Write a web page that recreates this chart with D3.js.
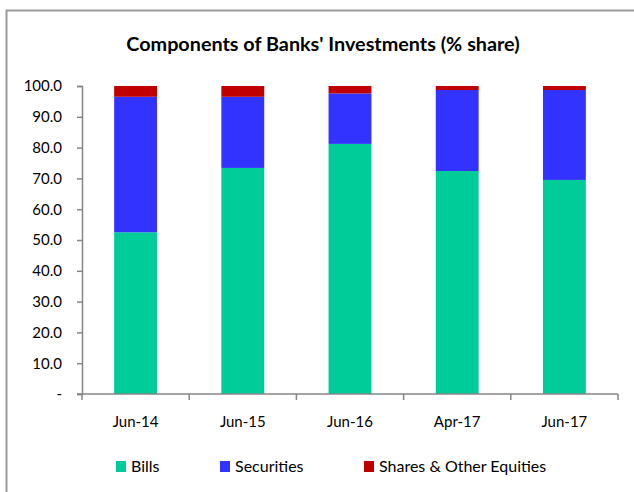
<!DOCTYPE html>
<html>
<head>
<meta charset="utf-8">
<script src="https://cdn.jsdelivr.net/npm/d3@7/dist/d3.min.js"></script>
<style>
  html, body { margin: 0; padding: 0; background: #fff; }
  svg { display: block; font-family: Lato, "Liberation Sans", sans-serif; }
</style>
</head>
<body>
<svg id="chart" width="634" height="492"></svg>
<script>
// Share of each investment component, in percent
const categories = ["Jun-14", "Jun-15", "Jun-16", "Apr-17", "Jun-17"];
const seriesNames = ["Bills", "Securities", "Shares & Other Equities"];
const bills = [52.5, 73.4, 81.2, 72.4, 69.5];
const securities = [44.0, 23.1, 16.4, 26.3, 29.2];
const shares = [3.5, 3.5, 2.4, 1.3, 1.3];
const yTicks = [0, 10, 20, 30, 40, 50, 60, 70, 80, 90, 100];
const colors = ["#00CC99", "#3333FF", "#C00000"];

const rows = categories.map((c, i) => ({
  cat: c, "Bills": bills[i], "Securities": securities[i], "Shares & Other Equities": shares[i]
}));

const svg = d3.select("#chart");
const axisColor = "#868686";

// outer frame
svg.append("rect")
  .attr("x", 6.5).attr("y", 10.5)
  .attr("width", 700).attr("height", 600)
  .attr("fill", "none").attr("stroke", "#9a9a9a").attr("stroke-width", 2);

// title
svg.append("text")
  .attr("x", 323).attr("y", 51)
  .attr("text-anchor", "middle")
  .attr("font-size", 19.8).attr("font-weight", "bold").attr("fill", "#000")
  .text("Components of Banks' Investments (% share)");

const plot = { left: 82, right: 618, top: 86, bottom: 394 };

const x = d3.scaleBand().domain(categories)
  .range([plot.left, plot.right]).paddingInner(0.6).paddingOuter(0.3);
const y = d3.scaleLinear().domain([0, 100]).range([plot.bottom, plot.top]);

const stack = d3.stack().keys(seriesNames)(rows);

svg.append("g").selectAll("g").data(stack).join("g")
  .attr("fill", (d, i) => colors[i])
  .selectAll("rect").data(d => d).join("rect")
  .attr("x", d => x(d.data.cat))
  .attr("width", x.bandwidth())
  .attr("y", d => y(d[1]))
  .attr("height", d => y(d[0]) - y(d[1]));

// y axis
const yAxis = svg.append("g")
  .attr("transform", `translate(${plot.left},0)`)
  .call(d3.axisLeft(y).tickValues(yTicks).tickSize(5).tickSizeOuter(5).tickPadding(15)
    .tickFormat(d => d === 0 ? "-" : d3.format(".1f")(d)));
yAxis.select(".domain").attr("stroke", axisColor).attr("stroke-width", 1.5);
yAxis.selectAll(".tick line").attr("stroke", axisColor).attr("stroke-width", 1.5);
yAxis.selectAll("text").attr("font-size", 15).attr("fill", "#000").attr("font-family", "Lato, sans-serif");

// x axis with ticks between categories
const xAxisG = svg.append("g").attr("transform", `translate(0,${plot.bottom})`);
xAxisG.append("line")
  .attr("x1", plot.left - 5).attr("x2", plot.right)
  .attr("stroke", axisColor).attr("stroke-width", 1.5);
const boundaries = d3.range(categories.length + 1).map(i => plot.left + i * (plot.right - plot.left) / categories.length);
xAxisG.selectAll("line.tk").data(boundaries).join("line")
  .attr("class", "tk")
  .attr("x1", d => d).attr("x2", d => d)
  .attr("y1", 0).attr("y2", 6)
  .attr("stroke", axisColor).attr("stroke-width", 1.5);
xAxisG.selectAll("text").data(categories).join("text")
  .attr("x", d => x(d) + x.bandwidth() / 2)
  .attr("y", 33)
  .attr("text-anchor", "middle")
  .attr("font-size", 15).attr("fill", "#000")
  .text(d => d);

// legend
const legendX = [116, 220, 364];
const legend = svg.append("g").selectAll("g").data(seriesNames).join("g")
  .attr("transform", (d, i) => `translate(${legendX[i]},461)`);
legend.append("rect").attr("width", 10).attr("height", 11)
  .attr("fill", (d, i) => colors[i]);
legend.append("text").attr("x", 15).attr("y", 11)
  .attr("font-size", 16).attr("fill", "#000")
  .text(d => d);
</script>
</body>
</html>
